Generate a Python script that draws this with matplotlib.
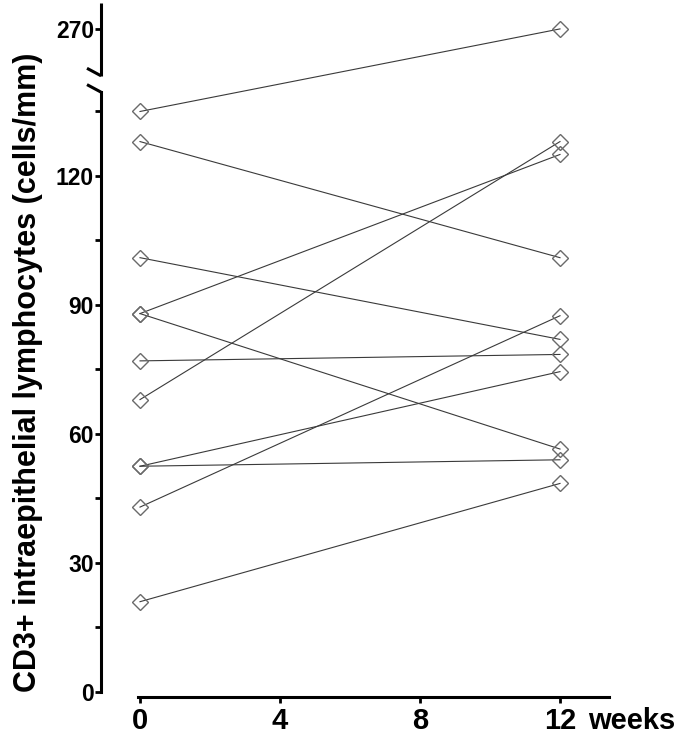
import numpy as np
import matplotlib
matplotlib.use('Agg')
import matplotlib.pyplot as plt
from matplotlib.lines import Line2D
from matplotlib.transforms import offset_copy, IdentityTransform

plt.rcParams['font.family'] = ['Liberation Sans', 'DejaVu Sans']
plt.rcParams['font.weight'] = 'bold'

# ---- data ----
weeks = [0, 12]
baseline = [135, 128, 101, 88, 88, 77, 68, 52.5, 52.5, 43, 21]
week12 = [270, 101, 82, 125, 56.5, 78.5, 128, 74.5, 54, 87.5, 48.5]
y_major = [0, 30, 60, 90, 120, 270]
y_minor = [15, 45, 75, 105, 135]
x_ticks = [0, 4, 8, 12]
ylabel = 'CD3+ intraepithelial lymphocytes (cells/mm)'

# ---- broken-axis scale ----
LOW_TOP = 139.5      # top of lower axis segment
GAP_T = 143.3        # transformed value where upper segment starts
B2 = 226.4           # data value where upper segment starts
S_UP = 0.25          # compression of the upper segment
YTOP = 294.1


def fwd(v):
    v = np.asarray(v, dtype=float)
    mid = LOW_TOP + (v - LOW_TOP) * (GAP_T - LOW_TOP) / (B2 - LOW_TOP)
    up = GAP_T + (v - B2) * S_UP
    return np.where(v <= LOW_TOP, v, np.where(v <= B2, mid, up))


def inv(t):
    t = np.asarray(t, dtype=float)
    mid = LOW_TOP + (t - LOW_TOP) * (B2 - LOW_TOP) / (GAP_T - LOW_TOP)
    up = B2 + (t - GAP_T) / S_UP
    return np.where(t <= LOW_TOP, t, np.where(t <= GAP_T, mid, up))


fig = plt.figure(figsize=(6.85, 7.36), dpi=100)
ax = fig.add_axes([101 / 685, 44 / 736, 539 / 685, 689 / 736])
ax.set_yscale('function', functions=(fwd, inv))
ax.set_ylim(0, YTOP)
ax.set_xlim(-39 / 35, 500 / 35)

line_col = '#3a3a3a'
mk_col = '#6a6a6a'
for b, e in zip(baseline, week12):
    ax.plot(weeks, [b, e], color=line_col, lw=0.8, zorder=2, clip_on=False)
ax.plot([weeks[0]] * len(baseline), baseline, ls='none', marker='D', ms=8.5,
        mfc='none', mec=mk_col, mew=1.0, zorder=3, clip_on=False)
ax.plot([weeks[1]] * len(week12), week12, ls='none', marker='D', ms=8.5,
        mfc='none', mec=mk_col, mew=1.0, zorder=3, clip_on=False)

# spines
for s in ('top', 'right'):
    ax.spines[s].set_visible(False)
ax.spines['left'].set_bounds(0, LOW_TOP)
ax.spines['left'].set_linewidth(2.2)
ax.spines['bottom'].set_linewidth(2.2)
ax.spines['bottom'].set_position(('outward', 3.6))
ax.spines['bottom'].set_bounds(-0.05, 13.4)

# upper spine segment
ax.plot([0, 0], [B2, YTOP], transform=ax.get_yaxis_transform(), color='black',
        lw=2.2, clip_on=False, solid_capstyle='butt')

# ticks
ax.set_yticks(y_major)
ax.set_yticklabels([str(v) for v in y_major])
ax.set_yticks(y_minor, minor=True)
ax.tick_params(axis='y', which='both', direction='out', length=4, width=2,
               pad=1, labelsize=16.5)
ax.set_xticks(x_ticks)
ax.set_xticklabels([str(v) for v in x_ticks])
ax.tick_params(axis='x', which='both', direction='out', length=4.3, width=2,
               pad=3, labelsize=21)

ax.text(12.8, 0, 'weeks',
        transform=offset_copy(ax.get_xaxis_transform(), fig=fig, y=-15, units='dots'),
        ha='left', va='top', fontsize=21, fontweight='bold')

ax.set_ylabel(ylabel, fontsize=22, fontweight='bold')
ax.yaxis.set_label_coords(-0.108, 0.464)

# break strokes
tr = ax.get_yaxis_transform()
p1 = tr.transform((0, LOW_TOP))
p2 = tr.transform((0, B2))
for p in (p1, p2):
    fig.add_artist(Line2D([p[0], p[0] - 14], [p[1], p[1] + 7.5],
                          transform=IdentityTransform(), color='black', lw=2.2,
                          solid_capstyle='butt'))

fig.savefig('out.png', dpi=100)
